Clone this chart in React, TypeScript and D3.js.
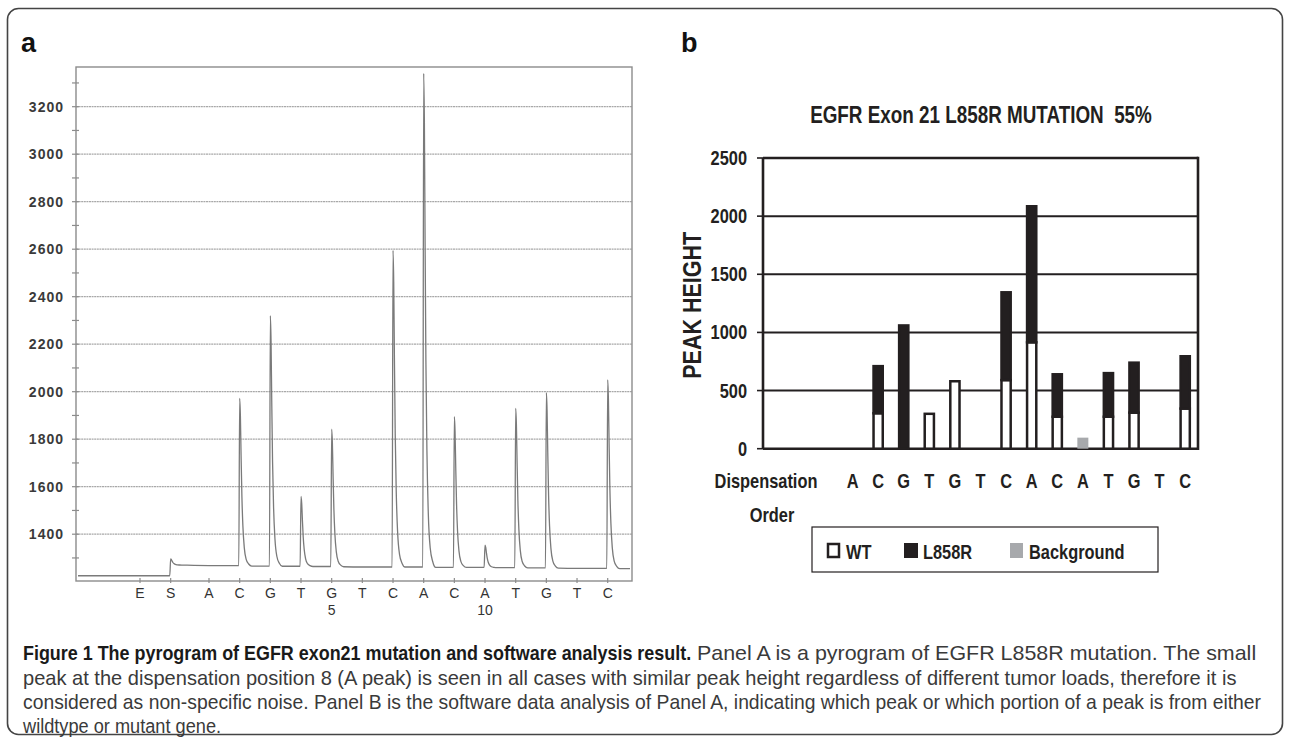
import React, { useLayoutEffect, useRef, useState } from "react";
import * as d3 from "d3";

const WIDTH = 1290;
const HEIGHT = 739;

// ---------- Panel a (pyrogram) data ----------
const pyroDispensations = ["E", "S", "A", "C", "G", "T", "G", "T", "C", "A", "C", "A", "T", "G", "T", "C"];
const pyroDispensationTimes = [0, 1, 2.25, 3.25, 4.25, 5.25, 6.25, 7.25, 8.25, 9.25, 10.25, 11.25, 12.25, 13.25, 14.25, 15.25];
const pyroPositionNumbers = ["", "", "", "", "", "", "5", "", "", "", "", "10", "", "", "", ""];
const pyroPeakTops: (number | null)[] = [null, 1296, null, 1972, 2320, 1559, 1842, null, 2595, 3340, 1895, 1354, 1930, 1996, null, 2050];
const pyroBaselines = [1225, 1270, 1268, 1266, 1265, 1264, 1263, 1262, 1262, 1260, 1260, 1259, 1258, 1257, 1256, 1255];
const pyroGridValues = [1400, 1600, 1800, 2000, 2200, 2400, 2600, 2800, 3000, 3200];
const pyroMinorTicks = [1300, 1500, 1700, 1900, 2100, 2300, 2500, 2700, 2900, 3100, 3300];

// ---------- Panel b (software analysis) data ----------
const leadingEmptySlots = ["_1", "_2", "_3"];
const dispensationOrder = ["A", "C", "G", "T", "G", "T", "C", "A", "C", "A", "T", "G", "T", "C"];
const wtHeights = [0, 305, 0, 300, 580, 0, 590, 915, 275, 0, 275, 310, 0, 345];
const l858rHeights = [0, 405, 1060, 0, 0, 0, 755, 1170, 365, 0, 375, 430, 0, 450];
const backgroundHeights = [0, 0, 0, 0, 0, 0, 0, 0, 0, 95, 0, 0, 0, 0];
const peakHeightTicks = [0, 500, 1000, 1500, 2000, 2500];
const legendItems = ["WT", "L858R", "Background"];

// ---------- caption ----------
const captionBold = "Figure 1 The pyrogram of EGFR exon21 mutation and software analysis result.";
const captionLines = [
  "Panel A is a pyrogram of EGFR L858R mutation. The small",
  "peak at the dispensation position 8 (A peak) is seen in all cases with similar peak height regardless of different tumor loads, therefore it is",
  "considered as non-specific noise. Panel B is the software data analysis of Panel A, indicating which peak or which portion of a peak is from either",
  "wildtype or mutant gene.",
];

const SANS = "'Liberation Sans', Arial, Helvetica, sans-serif";
const INK = "#231f20";
const NARROW_SCALE = 0.82;

// layout
const A = { left: 76, right: 632, top: 67, bottom: 581 };
const B = { left: 763, right: 1198 };

const yA = d3.scaleLinear().domain([1400, 3200]).range([534.2, 106.7]);
const xA = d3.scaleLinear().domain([0, 15.25]).range([140, 607.7]);

const yB = d3.scaleLinear().domain([0, 2500]).range([448.7, 158]);
const slots = [...leadingEmptySlots, ...dispensationOrder.map((_, i) => "d" + i)];
const xB = d3.scaleBand<string>().domain(slots).range([B.left, B.right]).paddingInner(0).paddingOuter(0);

// peak glyph shape (pixel offset after the dispensation, fraction of peak height remaining)
const decayShape: [number, number][] = [
  [0.7, 0.9], [1.4, 0.66], [2.2, 0.42], [3.2, 0.24], [4.6, 0.11], [6.5, 0.04], [9, 0.012], [12, 0],
];

function buildTrace(): string {
  const pts: [number, number][] = [];
  const n = pyroDispensations.length;
  pts.push([A.left + 2, yA(pyroBaselines[0])]);
  for (let i = 1; i < n; i++) {
    const x = xA(pyroDispensationTimes[i]);
    const prevBase = pyroBaselines[i - 1];
    const base = pyroBaselines[i];
    const top = pyroPeakTops[i];
    if (top == null) {
      pts.push([x, yA(base)]);
      continue;
    }
    pts.push([x - 0.9, yA(prevBase)]);
    pts.push([x, yA(top)]);
    for (const [dx, f] of decayShape) pts.push([x + dx, yA(base + (top - base) * f)]);
  }
  pts.push([A.right - 2, yA(pyroBaselines[n - 1])]);
  return d3.line().curve(d3.curveMonotoneX)(pts) || "";
}

type NTProps = {
  x: number; y: number; size: number; anchor?: "start" | "middle" | "end";
  rotate?: number; children: React.ReactNode; pre?: boolean; sx?: number;
};
function NarrowText({ x, y, size, anchor = "start", rotate = 0, children, pre, sx = NARROW_SCALE }: NTProps) {
  return (
    <text
      transform={`translate(${x},${y})${rotate ? ` rotate(${rotate})` : ""} scale(${sx},1)`}
      textAnchor={anchor} fontFamily={SANS} fontWeight="bold" fontSize={size} fill={INK}
      style={pre ? { whiteSpace: "pre" } : undefined}
    >
      {children}
    </text>
  );
}

type FitProps = { x: number; y: number; width: number; size: number; bold?: boolean; fill: string; children: string };
function FitText({ x, y, width, size, bold, fill, children }: FitProps) {
  const ref = useRef<SVGTextElement>(null);
  const [sx, setSx] = useState(0.88);
  useLayoutEffect(() => {
    if (ref.current) {
      const len = ref.current.getComputedTextLength();
      if (len > 0) setSx(width / len);
    }
  }, [width, children]);
  return (
    <text ref={ref} transform={`translate(${x},${y}) scale(${sx},1)`} fontFamily={SANS} fontSize={size}
      fontWeight={bold ? "bold" : "normal"} fill={fill}>
      {children}
    </text>
  );
}

function PanelA() {
  const trace = buildTrace();
  return (
    <g>
      <text x={21} y={52} fontFamily={SANS} fontWeight="bold" fontSize={27} fill="#111">a</text>
      {pyroGridValues.map((v) => (
        <line key={"g" + v} x1={A.left} x2={A.right} y1={yA(v)} y2={yA(v)} stroke="#a8a8a8" strokeWidth={1.2} strokeDasharray="2 0.6" />
      ))}
      <rect x={A.left} y={A.top} width={A.right - A.left} height={A.bottom - A.top} fill="none" stroke="#8c8c8c" strokeWidth={1.4} />
      {[...pyroGridValues, ...pyroMinorTicks].map((v) => (
        <line key={"t" + v} x1={A.left - 4} x2={A.left + 3} y1={yA(v)} y2={yA(v)} stroke="#8c8c8c" strokeWidth={1.2} />
      ))}
      {pyroGridValues.map((v) => (
        <text key={"l" + v} x={64} y={yA(v) + 5} textAnchor="end" fontFamily={SANS} fontWeight="bold" fontSize={14} letterSpacing={1} fill="#3a3a3a">
          {v}
        </text>
      ))}
      {pyroDispensations.map((d, i) => {
        const x = xA(pyroDispensationTimes[i]);
        return (
          <g key={"x" + i}>
            <line x1={x} x2={x} y1={A.bottom - 3} y2={A.bottom + 2} stroke="#8c8c8c" strokeWidth={1.2} />
            <text x={x} y={598} textAnchor="middle" fontFamily={SANS} fontSize={14} fill="#333">{d}</text>
            {pyroPositionNumbers[i] && (
              <text x={x} y={615} textAnchor="middle" fontFamily={SANS} fontSize={14} fill="#333">{pyroPositionNumbers[i]}</text>
            )}
          </g>
        );
      })}
      <path d={trace} fill="none" stroke="#7a7a7a" strokeWidth={1.3} />
    </g>
  );
}

function PanelB() {
  const bw = xB.bandwidth() * 0.36;
  const cx = (i: number) => (xB("d" + i) as number) + xB.bandwidth() / 2;
  return (
    <g>
      <text x={681} y={52} fontFamily={SANS} fontWeight="bold" fontSize={27} fill="#111">b</text>
      <NarrowText x={981} y={122.7} size={23} anchor="middle" pre>EGFR Exon 21 L858R MUTATION  55%</NarrowText>
      {peakHeightTicks.map((v) => (
        <g key={"bg" + v}>
          <line x1={B.left} x2={B.right} y1={yB(v)} y2={yB(v)} stroke={INK} strokeWidth={v === 0 || v === 2500 ? 2.6 : 2} />
          <line x1={B.left - 6} x2={B.left} y1={yB(v)} y2={yB(v)} stroke={INK} strokeWidth={1.6} />
          <NarrowText x={747} y={yB(v) + 7} size={20} anchor="end">{v}</NarrowText>
        </g>
      ))}
      <line x1={B.left} x2={B.left} y1={yB(0)} y2={yB(2500)} stroke={INK} strokeWidth={2.6} />
      <line x1={B.right} x2={B.right} y1={yB(0) + 1.3} y2={yB(2500) - 1.3} stroke={INK} strokeWidth={2.6} />
      {dispensationOrder.map((_, i) => {
        const wt = wtHeights[i];
        const mu = l858rHeights[i];
        const bg = backgroundHeights[i];
        const x = cx(i) - bw / 2;
        return (
          <g key={"bar" + i}>
            {bg > 0 && <rect x={cx(i) - 5.5} y={yB(bg)} width={11} height={yB(0) - yB(bg)} fill="#a7a9ac" />}
            {wt > 0 && (
              <rect x={x} y={yB(wt)} width={bw} height={yB(0) - yB(wt)} fill="#fff" stroke={INK} strokeWidth={2.5} />
            )}
            {mu > 0 && (
              <rect x={x} y={yB(wt + mu)} width={bw} height={yB(wt) - yB(wt + mu)} fill={INK} stroke={INK} strokeWidth={2.5} />
            )}
          </g>
        );
      })}
      {dispensationOrder.map((d, i) => (
        <NarrowText key={"c" + i} x={cx(i)} y={488} size={20} anchor="middle">{d}</NarrowText>
      ))}
      <NarrowText x={766} y={488} size={20} anchor="middle">Dispensation</NarrowText>
      <NarrowText x={772} y={522} size={20} anchor="middle">Order</NarrowText>
      <NarrowText x={701} y={(yB(0) + yB(2500)) / 2 + 2} size={25} sx={0.86} anchor="middle" rotate={-90}>PEAK HEIGHT</NarrowText>
      <rect x={812} y={527} width={346} height={45} fill="#fff" stroke={INK} strokeWidth={1.2} />
      {legendItems.map((item, i) => {
        const sx = [828, 904, 1010][i];
        const tx = [846, 923, 1029][i];
        return (
          <g key={item}>
            {i === 0 && <rect x={sx} y={544} width={11} height={13} fill="#fff" stroke={INK} strokeWidth={2.5} />}
            {i === 1 && <rect x={sx} y={543} width={14} height={15} fill={INK} />}
            {i === 2 && <rect x={sx} y={543} width={13} height={15} fill="#a7a9ac" />}
            <NarrowText x={tx} y={559} size={20}>{item}</NarrowText>
          </g>
        );
      })}
    </g>
  );
}

function Caption() {
  const lineYs = [660, 684.5, 709, 733];
  const starts = [697, 23, 23, 23];
  const widths = [559, 1214, 1238, 198];
  return (
    <g>
      <FitText x={23} y={lineYs[0]} width={668} size={20} bold fill="#1a1a1a">{captionBold}</FitText>
      {captionLines.map((line, i) => (
        <FitText key={i} x={starts[i]} y={lineYs[i]} width={widths[i]} size={20} fill="#3a3a3a">{line}</FitText>
      ))}
    </g>
  );
}

export default function App() {
  return (
    <svg width={WIDTH} height={HEIGHT} viewBox={`0 0 ${WIDTH} ${HEIGHT}`}
      style={{ position: "absolute", left: 0, top: 0, background: "#fff" }}>
      <rect x={0} y={0} width={WIDTH} height={HEIGHT} fill="#fff" />
      <rect x={7.5} y={8.5} width={1275} height={726} rx={11} fill="none" stroke="#444" strokeWidth={1.6} />
      <PanelA />
      <PanelB />
      <Caption />
    </svg>
  );
}
